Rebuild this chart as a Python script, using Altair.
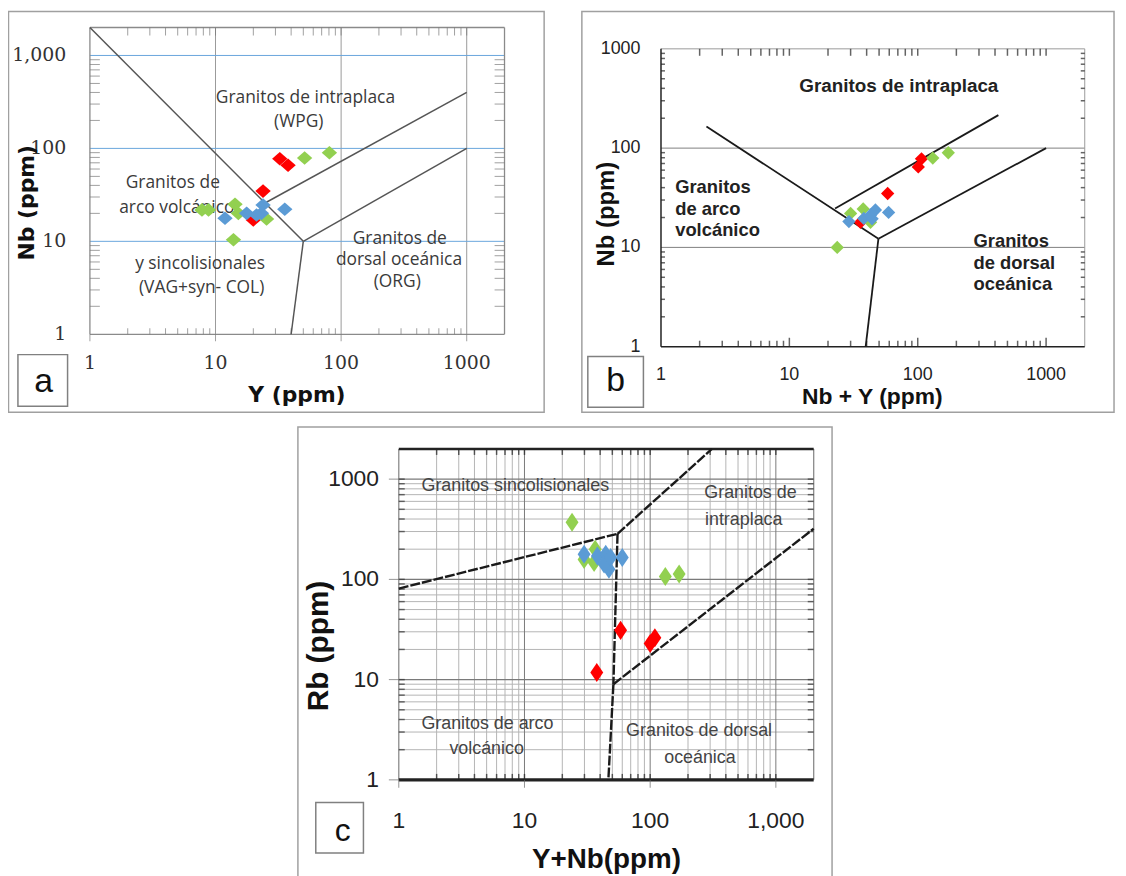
import altair as alt
import pandas as pd

W, H = 1118, 868

# ---------------- data: panel a  (Y ppm  vs  Nb ppm) ----------------
A_RED_Y = [32.5, 37.8, 23.9, 20.0]
A_RED_NB = [77.4, 65.8, 34.7, 17.0]
A_GREEN_Y = [51.2, 80.7, 7.8, 8.8, 14.3, 15.2, 25.5, 13.9]
A_GREEN_NB = [78.7, 89.8, 21.8, 21.8, 25.0, 20.0, 17.4, 10.4]
A_BLUE_Y = [11.9, 17.7, 23.9, 23.2, 21.2, 35.6]
A_BLUE_NB = [17.7, 20.0, 24.6, 20.0, 19.2, 22.1]

# ---------------- data: panel b  (Nb+Y ppm  vs  Nb ppm) ----------------
B_RED_X = [107, 101, 58.3, 35.8]
B_RED_NB = [78, 64.6, 34.9, 17.9]
B_GREEN_X = [131, 173, 30, 37.6, 42.9, 23.6]
B_GREEN_NB = [79.4, 89.8, 22, 24.4, 17.9, 10]
B_BLUE_X = [29.1, 38, 44.1, 46.8, 42.9, 59.3]
B_BLUE_NB = [18.2, 19.6, 19.4, 23.8, 21.2, 22.5]

# ---------------- data: panel c  (Y+Nb ppm  vs  Rb ppm) ----------------
C_RED_X = [58.2, 100, 109, 37.6]
C_RED_RB = [31, 22.9, 26.1, 11.8]
C_GREEN_X = [23.9, 132, 170, 29.8, 36.5, 35.8]
C_GREEN_RB = [372, 107, 113, 158, 200, 147]
C_BLUE_X = [29.8, 38, 44.3, 47, 43, 48.5, 60]
C_BLUE_RB = [178, 171, 178, 126, 142, 165, 165]

# ---------------- discrimination boundaries (segments) ----------------
A_LINE_X1 = [1, 50, 25, 50]
A_LINE_Y1 = [2000, 10, 26, 10]
A_LINE_X2 = [50, 1000, 1000, 40]
A_LINE_Y2 = [10, 100, 400, 1]

B_LINE_X1 = [2.26, 49.4, 22.7, 49.4]
B_LINE_Y1 = [165, 12.2, 24.7, 12.2]
B_LINE_X2 = [49.4, 1000, 425, 39.3]
B_LINE_Y2 = [12.2, 100, 215, 1]

C_LINE_X1 = [1, 55, 55, 51, 51]
C_LINE_Y1 = [81, 285, 285, 9, 9]
C_LINE_X2 = [55, 310, 51, 46.5, 2000]
C_LINE_Y2 = [285, 2000, 9, 1, 320]

# ---------------- field labels ----------------
A_LABEL_TEXT = ["Granitos de intraplaca", "(WPG)", "Granitos de", "arco volcánico",
                "y sincolisionales", "(VAG+syn- COL)", "Granitos de", "dorsal oceánica", "(ORG)"]
A_LABEL_X = [52, 46, 4.57, 4.92, 7.53, 7.75, 293, 289, 280]
A_LABEL_Y = [349, 191, 42.1, 23.0, 5.74, 3.14, 10.7, 6.25, 3.64]

B_TITLE_TEXT = ["Granitos de intraplaca"]
B_TITLE_X = [71.2]
B_TITLE_Y = [424]
B_LABEL_TEXT = ["Granitos", "de arco", "volcánico", "Granitos", "de dorsal", "oceánica"]
B_LABEL_X = [1.29, 1.29, 1.29, 272, 272, 272]
B_LABEL_Y = [40.1, 24.4, 14.8, 11.5, 6.97, 4.24]

C_LABEL_TEXT = ["Granitos sincolisionales", "Granitos de", "intraplaca",
                "Granitos de arco", "volcánico", "Granitos de dorsal", "oceánica"]
C_LABEL_X = [8.46, 628, 555, 5.07, 5.0, 245, 249]
C_LABEL_Y = [859, 727, 395, 3.61, 2.04, 3.06, 1.66]

# ---------------- axis ticks and tick labels ----------------
MAJOR = [1, 10, 100, 1000]
MINOR = [2, 3, 4, 5, 6, 7, 8, 9, 20, 30, 40, 50, 60, 70, 80, 90,
         200, 300, 400, 500, 600, 700, 800, 900]
INNER_MAJOR = [10, 100, 1000]
LAB_PLAIN = ["1", "10", "100", "1000"]
LAB_COMMA = ["1", "10", "100", "1,000"]

GROUPS = ["Rojo", "Verde", "Azul"]
COLOR = alt.Scale(domain=GROUPS, range=["#ff0000", "#92d050", "#5b9bd5"])


def lg(d, r):
    return alt.Scale(type="log", domain=d, range=r, nice=False)


SAX = lg([1, 2000], [82.5, 500.1]); SAY = lg([1, 2000], [325.5, 16.5])
SBX = lg([1, 2000], [657.7, 1084.5]); SBY = lg([1, 1000], [338, 38])
SCX = lg([1, 2000], [393.6, 811.5]); SCY = lg([1, 2000], [774.3, 441.0])


def pts_df(xr, yr, xg, yg, xb, yb):
    rows = []
    for k, (g, xs, ys) in enumerate(zip(GROUPS, [xr, xg, xb], [yr, yg, yb])):
        for x, y in zip(xs, ys):
            rows.append({"x": x, "y": y, "g": g, "k": k})
    return pd.DataFrame(rows)


def points(df, sx, sy, shape, size):
    return alt.Chart(df).mark_point(filled=True, shape=shape, size=size, opacity=1, strokeWidth=0).encode(
        x=alt.X("x:Q", scale=sx, axis=None), y=alt.Y("y:Q", scale=sy, axis=None),
        color=alt.Color("g:N", scale=COLOR, legend=None), order=alt.Order("k:Q"))


def segs(x1, y1, x2, y2, sx, sy, **mk):
    df = pd.DataFrame({"x1": x1, "y1": y1, "x2": x2, "y2": y2})
    return alt.Chart(df).mark_rule(**mk).encode(
        x=alt.X("x1:Q", scale=sx, axis=None), y=alt.Y("y1:Q", scale=sy, axis=None),
        x2="x2:Q", y2="y2:Q")


def vgrid(vals, yd, sx, sy, **mk):
    n = len(vals)
    return segs(vals, [yd[0]] * n, vals, [yd[1]] * n, sx, sy, **mk)


def hgrid(vals, xd, sx, sy, **mk):
    n = len(vals)
    return segs([xd[0]] * n, vals, [xd[1]] * n, vals, sx, sy, **mk)


def ticks(vals, side, other, length, sx, sy, color, thick, out=False):
    n = len(vals)
    sgn = -1 if out else 1
    if side in ("bottom", "top"):
        df = pd.DataFrame({"x": vals, "y": [other] * n})
        off = (-length / 2 if side == "bottom" else length / 2) * sgn
        mk = alt.Chart(df).mark_tick(orient="vertical", size=length, thickness=thick, color=color, yOffset=off)
    else:
        df = pd.DataFrame({"x": [other] * n, "y": vals})
        off = (length / 2 if side == "left" else -length / 2) * sgn
        mk = alt.Chart(df).mark_tick(orient="horizontal", size=length, thickness=thick, color=color, xOffset=off)
    return mk.encode(x=alt.X("x:Q", scale=sx, axis=None), y=alt.Y("y:Q", scale=sy, axis=None))


def texts(tx, xs, ys, sx, sy, align="center", **mk):
    df = pd.DataFrame({"t": tx, "x": xs, "y": ys})
    return alt.Chart(df).mark_text(align=align, baseline="middle", **mk).encode(
        x=alt.X("x:Q", scale=sx, axis=None), y=alt.Y("y:Q", scale=sy, axis=None), text="t:N")


def xlabels(labels, sx, ypix, **mk):
    df = pd.DataFrame({"v": MAJOR, "t": labels})
    return alt.Chart(df).mark_text(align="center", baseline="middle", **mk).encode(
        x=alt.X("v:Q", scale=sx, axis=None), y=alt.value(ypix), text="t:N")


def ylabels(labels, sy, xpix, **mk):
    df = pd.DataFrame({"v": MAJOR, "t": labels})
    return alt.Chart(df).mark_text(align="right", baseline="middle", **mk).encode(
        y=alt.Y("v:Q", scale=sy, axis=None), x=alt.value(xpix), text="t:N")


ONE = pd.DataFrame({"a": [0]})


def title(txt, x, y, angle=0, **mk):
    return alt.Chart(ONE).mark_text(align="center", baseline="middle", angle=angle, fontWeight="bold",
                                    color="#111", **mk).encode(
        x=alt.value(x), y=alt.value(y), text=alt.value(txt))


def box(x1, y1, x2, y2, stroke, fill=None, sw=1.5):
    mk = dict(stroke=stroke, strokeWidth=sw)
    if fill:
        mk["fill"] = fill
    else:
        mk["fillOpacity"] = 0
    return alt.Chart(ONE).mark_rect(**mk).encode(
        x=alt.value(x1), x2=alt.value(x2), y=alt.value(y1), y2=alt.value(y2))


def letter(ch, x, y, size):
    return alt.Chart(ONE).mark_text(fontSize=size, font="Liberation Sans", color="#111",
                                    align="center", baseline="middle").encode(
        x=alt.value(x), y=alt.value(y), text=alt.value(ch))


# ================= panel a =================
AD = [1, 2000]
panel_a = alt.layer(
    box(0.5, 0.5, 540, 404, "#a0a0a0"),
    box(10, 346, 60, 398, "#808080", fill="white"),
    letter("a", 36, 374, 34),
    vgrid(INNER_MAJOR, AD, SAX, SAY, color="#9a9a9a", strokeWidth=1),
    hgrid(INNER_MAJOR, AD, SAX, SAY, color="#6aa6dd", strokeWidth=1),
    segs([1, 1, 1, 2000], [1, 2000, 1, 1], [2000, 2000, 1, 2000], [1, 2000, 2000, 2000], SAX, SAY,
         color="#8a8a8a", strokeWidth=1.3),
    ticks(MINOR, "bottom", 1, 6, SAX, SAY, "#777", 1),
    ticks(MAJOR, "bottom", 1, 7, SAX, SAY, "#777", 1, out=True),
    ticks(MINOR + INNER_MAJOR, "top", 2000, 8, SAX, SAY, "#777", 1),
    ticks(MINOR, "left", 1, 10, SAX, SAY, "#777", 1),
    ticks(MINOR, "right", 2000, 10, SAX, SAY, "#777", 1),
    segs(A_LINE_X1, A_LINE_Y1, A_LINE_X2, A_LINE_Y2, SAX, SAY, color="#555", strokeWidth=1.5),
    xlabels(LAB_PLAIN, SAX, 354.7, font="DejaVu Serif", fontSize=19, color="#333"),
    ylabels(LAB_COMMA, SAY, 58.7, font="DejaVu Serif", fontSize=19, color="#333"),
    title("Y (ppm)", 291, 387, font="DejaVu Sans", fontSize=22),
    title("Nb (ppm)", 19, 193, angle=270, font="DejaVu Sans", fontSize=22),
    texts(A_LABEL_TEXT, A_LABEL_X, A_LABEL_Y, SAX, SAY, font="Open Sans", fontSize=17.5, color="#3a3a3a"),
    points(pts_df(A_RED_Y, A_RED_NB, A_GREEN_Y, A_GREEN_NB, A_BLUE_Y, A_BLUE_NB), SAX, SAY,
           "M0,-0.88L1,0L0,0.88L-1,0Z", 240),
)

# ================= panel b =================
BXD = [1, 2000]
BYD = [1, 1000]
panel_b = alt.layer(
    box(578, 0.5, 1114, 404, "#a0a0a0"),
    box(584, 348, 640, 399, "#808080", fill="white"),
    letter("b", 612, 373, 34),
    hgrid([10, 100], BXD, SBX, SBY, color="#808080", strokeWidth=1),
    segs([1, 2000], [1000, 1], [2000, 2000], [1000, 1000], SBX, SBY, color="#9a9a9a", strokeWidth=1),
    segs([1, 1], [1, 1], [2000, 1], [1, 1000], SBX, SBY, color="#222", strokeWidth=1.5),
    ticks(MINOR, "bottom", 1, 6, SBX, SBY, "#222", 1.5),
    ticks(INNER_MAJOR, "bottom", 1, 9, SBX, SBY, "#222", 1.5),
    ticks(MINOR + INNER_MAJOR, "top", 1000, 7, SBX, SBY, "#222", 1.5),
    ticks(MINOR, "left", 1, 4, SBX, SBY, "#222", 1.5),
    ticks(MINOR, "right", 2000, 4, SBX, SBY, "#222", 1.5),
    segs(B_LINE_X1, B_LINE_Y1, B_LINE_X2, B_LINE_Y2, SBX, SBY, color="#1a1a1a", strokeWidth=1.8),
    xlabels(LAB_PLAIN, SBX, 367, font="Liberation Sans", fontSize=18, color="#222"),
    ylabels(LAB_PLAIN, SBY, 637, font="Liberation Sans", fontSize=18, color="#222"),
    title("Nb + Y (ppm)", 870.6, 388.7, font="Liberation Sans", fontSize=23),
    title("Nb (ppm)", 603.7, 204.5, angle=270, font="Liberation Sans", fontSize=24),
    texts(B_TITLE_TEXT, B_TITLE_X, B_TITLE_Y, SBX, SBY, font="Liberation Sans", fontSize=19,
          fontWeight="bold", color="#222"),
    texts(B_LABEL_TEXT, B_LABEL_X, B_LABEL_Y, SBX, SBY, align="left", font="Liberation Sans", fontSize=18.5,
          fontWeight="bold", color="#222"),
    points(pts_df(B_RED_X, B_RED_NB, B_GREEN_X, B_GREEN_NB, B_BLUE_X, B_BLUE_NB), SBX, SBY,
           "diamond", 180),
)

# ================= panel c =================
CD = [1, 2000]
NARROW = "Liberation Sans Narrow, Liberation Sans"
panel_c = alt.layer(
    box(292, 419, 830, 872, "#a0a0a0"),
    box(310, 797, 358, 848, "#808080", fill="white"),
    letter("c", 337, 826, 32),
    vgrid(MINOR, CD, SCX, SCY, color="#b4b4b4", strokeWidth=1),
    hgrid(MINOR, CD, SCX, SCY, color="#b4b4b4", strokeWidth=1),
    vgrid(INNER_MAJOR, CD, SCX, SCY, color="#7a7a7a", strokeWidth=1),
    hgrid(INNER_MAJOR, CD, SCX, SCY, color="#7a7a7a", strokeWidth=1.2),
    segs([1, 2000], [1, 1], [1, 2000], [2000, 2000], SCX, SCY, color="#8a8a8a", strokeWidth=1.3),
    segs([1], [2000], [2000], [2000], SCX, SCY, color="#222", strokeWidth=2.5),
    segs([1], [1], [2000], [1], SCX, SCY, color="#222", strokeWidth=3.5),
    ticks(MINOR + INNER_MAJOR, "bottom", 1, 6, SCX, SCY, "#222", 1.5),
    ticks(MINOR + INNER_MAJOR, "top", 2000, 6, SCX, SCY, "#222", 1.5),
    ticks(MINOR + INNER_MAJOR, "left", 1, 6, SCX, SCY, "#333", 1.5),
    ticks(MINOR + INNER_MAJOR, "right", 2000, 6, SCX, SCY, "#333", 1.5),
    ticks(MAJOR, "bottom", 1, 8, SCX, SCY, "#666", 1, out=True),
    ticks(MAJOR, "left", 1, 10, SCX, SCY, "#666", 1, out=True),
    segs(C_LINE_X1, C_LINE_Y1, C_LINE_X2, C_LINE_Y2, SCX, SCY, color="#1a1a1a", strokeWidth=2.4,
         strokeDash=[10, 2]),
    xlabels(LAB_COMMA, SCX, 815.3, font=NARROW, fontSize=23, color="#222"),
    ylabels(LAB_PLAIN, SCY, 373.7, font=NARROW, fontSize=23, color="#222"),
    title("Y+Nb(ppm)", 602.8, 855, font=NARROW, fontSize=28),
    title("Rb (ppm)", 313.3, 639.5, angle=270, font="Liberation Sans", fontSize=30),
    texts(C_LABEL_TEXT, C_LABEL_X, C_LABEL_Y, SCX, SCY, font=NARROW, fontSize=18, color="#444"),
    points(pts_df(C_RED_X, C_RED_RB, C_GREEN_X, C_GREEN_RB, C_BLUE_X, C_BLUE_RB), SCX, SCY,
           "M0,-1.18L0.8,0L0,1.18L-0.8,0Z", 264),
)

chart = alt.layer(panel_a, panel_b, panel_c).resolve_scale(
    x="independent", y="independent").properties(
    width=W, height=H, autosize=alt.AutoSizeParams(type="none"), padding=0, background="white"
).configure_view(stroke=None)

chart.save("out.html", embed_options={"renderer": "svg", "actions": False})
